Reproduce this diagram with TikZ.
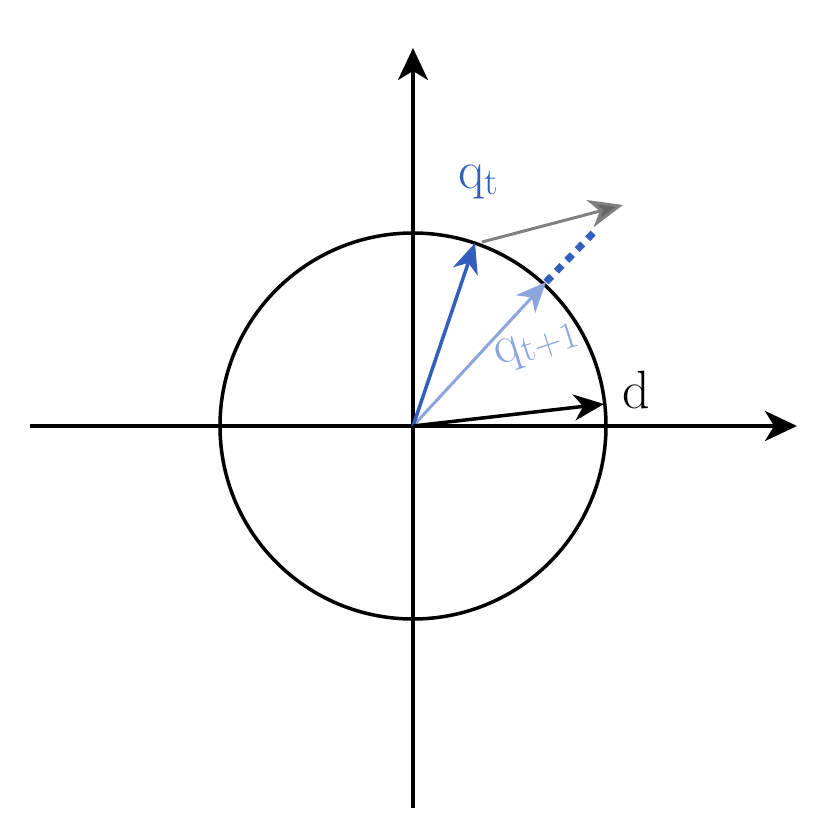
\documentclass[tikz,border=0pt]{standalone}
\usepackage{fontspec}
\setmainfont{Latin Modern Roman}
\usetikzlibrary{arrows.meta}
\definecolor{qblue}{RGB}{50,95,190}
\definecolor{qlight}{RGB}{140,165,220}
\newcommand{\sbt}[1]{\raisebox{-6pt}{\fontsize{38}{38}\selectfont #1}}
\begin{document}
\begin{tikzpicture}[x=1pt,y=-1pt,
  ax/.style={line width=3.5pt,-{Stealth[length=32pt,width=30pt,inset=9pt]}},
  vec/.style={line width=3.5pt,-{Stealth[length=30pt,width=26pt,inset=9pt]}},
  lbl/.style={font=\fontsize{54}{54}\selectfont}]
\useasboundingbox (0,0) rectangle (829,833);
\coordinate (O) at (413,426);
\coordinate (xl) at (30,426);
\coordinate (xr) at (797,426);
\coordinate (yb) at (413,808);
\coordinate (yt) at (413,48);
\coordinate (qt) at (475,243);
\coordinate (qt1) at (546,282);
\coordinate (gs) at (482,242);
\coordinate (ge) at (623,205);
\coordinate (de) at (604,404);
\coordinate (dote) at (598,228);
\draw[ax] (xl) -- (xr);
\draw[ax] (yb) -- (yt);
\draw[line width=3.5pt] (O) circle (193);
\draw[vec, qlight, line width=3pt] (O) -- (qt1);
\draw[qblue, line width=7pt, dash pattern=on 8pt off 7pt] (qt1) -- (dote);
\draw[vec, gray, line width=3pt,-{Stealth[length=34pt,width=28pt,inset=10pt,fill=gray!80!black]}] (gs) -- (ge);
\draw[vec, qblue] (O) -- (qt);
\draw[vec, black] (O) -- (de);
\node[lbl, text=qblue] (lq) at (478,182) {q\sbt{t}};
\node[lbl, text=qlight, rotate=18] (lq1) at (537,346) {q\sbt{t+1}};
\node[lbl] (ld) at (636,390) {d};
\end{tikzpicture}
\end{document}
